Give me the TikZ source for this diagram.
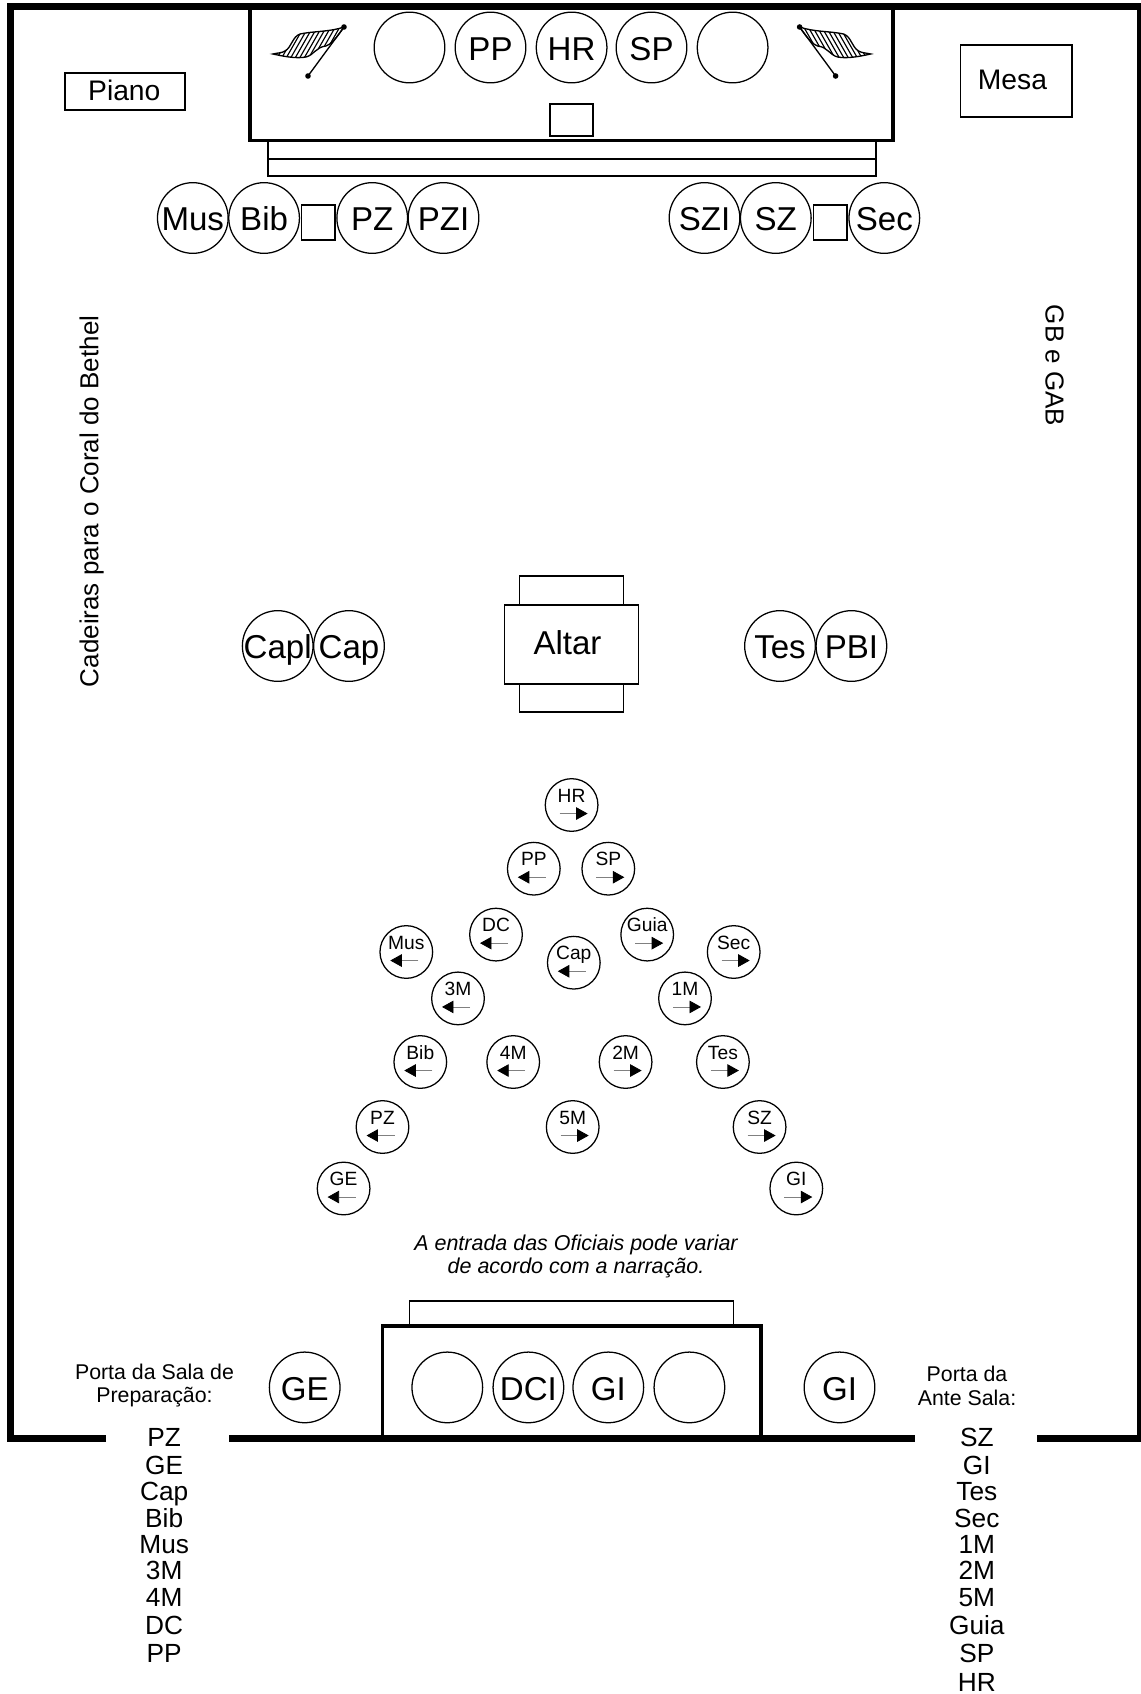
\documentclass[tikz,border=0pt]{standalone}
\usepackage{fontspec}
\setmainfont{Liberation Sans}
\usetikzlibrary{arrows.meta, shapes.geometric}
\tikzset{
  thinline/.style={line width=0.95pt},
  wall/.style={line width=5.25pt, line join=miter, line cap=butt},
  stage/.style={line width=2.7pt, line join=miter},
  bigseat/.style={circle, draw, thinline, fill=white, inner sep=0pt, minimum size=53pt,
    font=\fontsize{24.8pt}{25pt}\selectfont, text height=19pt, text depth=0pt},
  marcher/.style={circle, draw, thinline, fill=white, inner sep=0pt, minimum size=39.5pt,
    font=\fontsize{14.4pt}{15pt}\selectfont, text height=10pt, text depth=14.2pt},
  goright/.style={marcher, path picture={
    \draw[gray, line width=0.6pt, -{Triangle[black, length=8.6pt, width=9.4pt]}]
      ([xshift=-9pt, yshift=-6.4pt]path picture bounding box.center) --
      ([xshift=12pt, yshift=-6.4pt]path picture bounding box.center);}},
  goleft/.style={marcher, path picture={
    \draw[gray, line width=0.6pt, -{Triangle[black, length=8.6pt, width=9.4pt]}]
      ([xshift=9pt, yshift=-6.4pt]path picture bounding box.center) --
      ([xshift=-12pt, yshift=-6.4pt]path picture bounding box.center);}},
  listname/.style={font=\fontsize{19.7pt}{20pt}\selectfont, inner sep=0pt, text height=14pt, text depth=0pt},
  roomlabel/.style={font=\fontsize{19.5pt}{20pt}\selectfont, inner sep=0pt},
  doorlabel/.style={font=\fontsize{16pt}{17.8pt}\selectfont, inner sep=0pt, align=center},
  flag/.pic={
    \begin{scope}
      \clip (0,0) .. controls (-14,5) and (-30,4) .. (-44,7)
        .. controls (-52,10) and (-52,20) .. (-59,24)
        .. controls (-62,26) and (-67,26) .. (-71,27)
        .. controls (-62,29) and (-48,32) .. (-38,30)
        .. controls (-30,28) and (-28,20) .. (-18,19)
        .. controls (-14,18) and (-8,12) .. cycle;
      \foreach \hx in {-90,-85.5,...,0}
        \draw[line width=0.85pt] (\hx,40) -- (\hx+24,-2);
    \end{scope}
    \draw[line width=1pt] (0,0) .. controls (-14,5) and (-30,4) .. (-44,7)
      .. controls (-52,10) and (-52,20) .. (-59,24)
      .. controls (-62,26) and (-67,26) .. (-71,27)
      .. controls (-62,29) and (-48,32) .. (-38,30)
      .. controls (-30,28) and (-28,20) .. (-18,19)
      .. controls (-14,18) and (-8,12) .. cycle;
    \draw[line width=1pt] (0,0) -- (-36,49);
    \fill (0,0) circle (2.8);
    \fill (-36,49) circle (2.8);
  }
}

\begin{document}
\begin{tikzpicture}[x=0.75pt, y=-0.75pt]
    \useasboundingbox (0,0) rectangle (1141,1694);
    % walls
    \draw[wall] (106,1438.5) -- (10.7,1438.5) -- (10.7,6.5) -- (1140.5,6.5) -- (1140.5,1438.5) -- (1037,1438.5);
    \draw[wall] (229,1438.5) -- (915,1438.5);
    % upper stage
    \draw[thinline] (268,140.5) rectangle (876,176);
    \draw[thinline] (268,159) -- (876,159);
    \draw[stage] (250,6.5) rectangle (893,140.5);
    \draw[thinline] (550,104) rectangle (593,136);
    \pic at (344,27) {flag};
    \pic[xscale=-1] at (799.6,27) {flag};
    \node[bigseat] (topleft) at (409.5,47.5) {};
    \node[bigseat] (toppp) at (490.5,47.5) {PP};
    \node[bigseat] (tophr) at (571.6,47.5) {HR};
    \node[bigseat] (topsp) at (651.5,47.5) {SP};
    \node[bigseat] (topright) at (732.6,47.5) {};
    \draw[thinline] (65,73) rectangle (185,110);
    \node[roomlabel, font=\fontsize{21.2pt}{22pt}\selectfont] (piano) at (124.3,90.8) {Piano};
    \draw[thinline] (960.5,45) rectangle (1072,117);
    \node[roomlabel, font=\fontsize{21.2pt}{22pt}\selectfont] (mesa) at (1012.4,80) {Mesa};
    % seats below the stage
    \node[bigseat] (rowmus) at (192.8,218) {Mus};
    \node[bigseat] (rowbib) at (264.1,218) {Bib};
    \draw[thinline, fill=white] (301.5,205) rectangle (335,240);
    \node[bigseat] (rowpz) at (372.2,218) {PZ};
    \node[bigseat] (rowpzi) at (443.5,218) {PZI};
    \node[bigseat] (rowszi) at (704.5,218) {SZI};
    \node[bigseat] (rowsz) at (775.8,218) {SZ};
    \draw[thinline, fill=white] (813.6,205) rectangle (847,240);
    \node[bigseat] (rowsec) at (884.3,218) {Sec};
    % side texts
    \node[roomlabel, rotate=90] (coral) at (91.7,501.4) {Cadeiras para o Coral do Bethel};
    \node[roomlabel, rotate=-90] (gab) at (1054.6,365.5) {GB e GAB};
    % altar
    \draw[thinline] (519.7,576) rectangle (623.5,712);
    \draw[thinline, fill=white] (504.6,605) rectangle (638.6,684);
    \node[font=\fontsize{24.8pt}{25pt}\selectfont, inner sep=0pt] (altar) at (567.5,643) {Altar};
    \node[bigseat, inner sep=-1pt] (capl) at (277.7,646) {Capl};
    \node[bigseat] (cap) at (349,646) {Cap};
    \node[bigseat] (tes) at (780,646) {Tes};
    \node[bigseat] (pbi) at (851.4,646) {PBI};
    % entrance
    \node[goright] (hr) at (571.6,805) {HR};
    \node[goleft] (pp) at (533.8,868.7) {PP};
    \node[goright] (sp) at (608.3,868.7) {SP};
    \node[goleft] (dc) at (496,934.6) {DC};
    \node[goright] (guia) at (647.2,934.6) {Guia};
    \node[goleft] (mus) at (406.3,952) {Mus};
    \node[goright] (sec) at (733.7,952) {Sec};
    \node[goleft] (capb) at (573.8,962.7) {Cap};
    \node[goleft] (m3) at (458,998.4) {3M};
    \node[goright] (m1) at (685,998.4) {1M};
    \node[goleft] (bib) at (420.3,1062) {Bib};
    \node[goleft] (m4) at (513.2,1062) {4M};
    \node[goright] (m2) at (625.6,1062) {2M};
    \node[goright] (tesb) at (722.9,1062) {Tes};
    \node[goleft] (pz) at (382.5,1127) {PZ};
    \node[goright] (m5) at (572.7,1127) {5M};
    \node[goright] (sz) at (759.6,1127) {SZ};
    \node[goleft] (ge) at (343.6,1188.5) {GE};
    \node[goright] (gi) at (796.3,1188.5) {GI};
    \node[font=\fontsize{16.1pt}{17.8pt}\itshape\selectfont, inner sep=0pt, align=center] (note) at (576,1256.5)
      {A entrada das Oficiais pode variar\\de acordo com a narração.};
    % lower stage
    \draw[thinline] (409.5,1301) rectangle (733.6,1326);
    \draw[stage] (382.5,1438.5) -- (382.5,1326) -- (760.7,1326) -- (760.7,1438.5);
    \node[bigseat] (lowleft) at (447.3,1387.4) {};
    \node[bigseat] (lowdci) at (528.4,1387.4) {DCI};
    \node[bigseat] (lowgi) at (608.3,1387.4) {GI};
    \node[bigseat] (lowright) at (689.4,1387.4) {};
    \node[bigseat] (doorge) at (304.7,1387.4) {GE};
    \node[bigseat] (doorgi) at (839.5,1387.4) {GI};
    % doors
    \node[doorlabel] (prep) at (154.5,1385.5) {Porta da Sala de\\Preparação:};
    \node[doorlabel] (ante) at (967,1385.5) {Porta da\\Ante Sala:};
    \node[listname] (la) at (164.2,1437.5) {PZ};
    \node[listname] (lb) at (164.2,1465) {GE};
    \node[listname] (lc) at (164.2,1491) {Cap};
    \node[listname] (ld) at (164.2,1518.5) {Bib};
    \node[listname] (le) at (164.2,1544) {Mus};
    \node[listname] (lf) at (164.2,1570) {3M};
    \node[listname] (lg) at (164.2,1597.5) {4M};
    \node[listname] (lh) at (164.2,1625) {DC};
    \node[listname] (li) at (164.2,1653) {PP};
    \node[listname] (ra) at (976.8,1437.5) {SZ};
    \node[listname] (rb) at (976.8,1465) {GI};
    \node[listname] (rc) at (976.8,1491) {Tes};
    \node[listname] (rd) at (976.8,1518.5) {Sec};
    \node[listname] (re) at (976.8,1544) {1M};
    \node[listname] (rf) at (976.8,1570) {2M};
    \node[listname] (rg) at (976.8,1597.5) {5M};
    \node[listname] (rh) at (976.8,1625) {Guia};
    \node[listname] (ri) at (976.8,1653) {SP};
    \node[listname] (rj) at (976.8,1682) {HR};
\end{tikzpicture}
\end{document}
